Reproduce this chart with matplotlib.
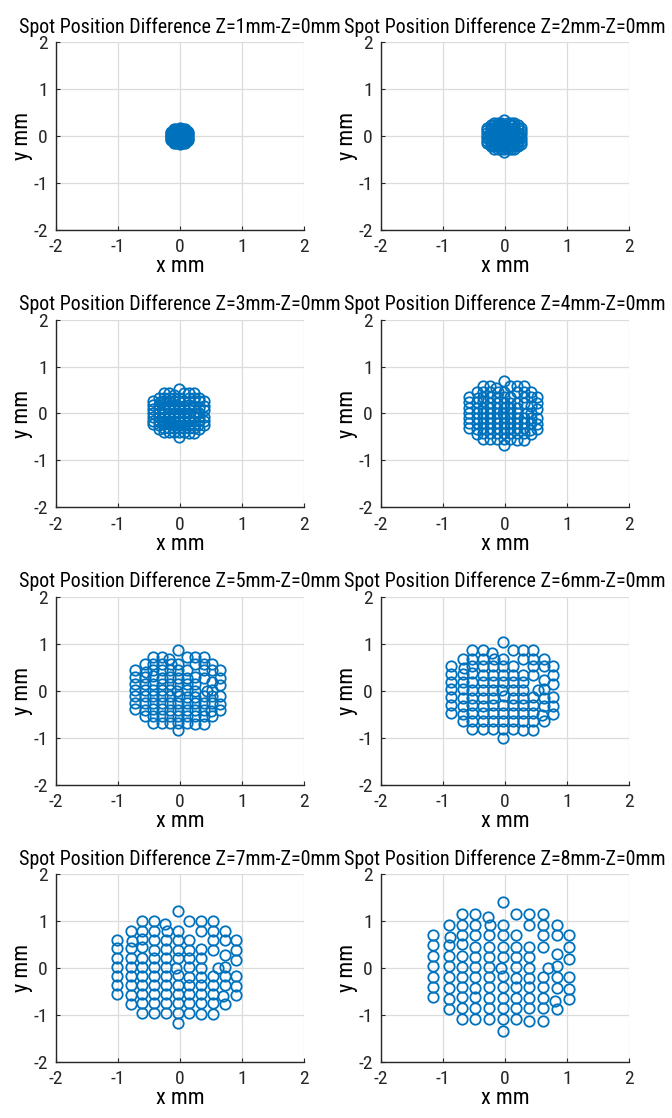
import matplotlib
matplotlib.use("Agg")
import matplotlib.pyplot as plt

plt.rcParams["font.family"] = ["Roboto Condensed", "Liberation Sans", "DejaVu Sans"]
plt.rcParams["axes.unicode_minus"] = False

z_mm = [1, 2, 3, 4, 5, 6, 7, 8]
# highest spot in each panel (mm)
spread_top = [0.18, 0.35, 0.52, 0.70, 0.87, 1.05, 1.22, 1.40]

spot_x = [-1.16, -1.16, -1.16, -1.16, -1.16, -1.16, -1.16,
          -0.91, -0.88, -0.91, -0.91, -0.91, -0.91, -0.91, -0.91, -0.91,
          -0.70, -0.70, -0.70, -0.70, -0.70, -0.70, -0.70, -0.70, -0.70, -0.70, -0.70,
          -0.48, -0.48, -0.48, -0.48, -0.48, -0.48, -0.48, -0.48, -0.48, -0.48, -0.48,
          -0.28, -0.24, -0.26, -0.26, -0.26, -0.26, -0.26, -0.26, -0.26, -0.26, -0.26,
          -0.04, -0.04, -0.04, -0.04, -0.04, -0.07, -0.03, -0.04, -0.04, -0.04, -0.04, -0.04,
          0.17, 0.17, 0.17, 0.17, 0.17, 0.17, 0.17, 0.17, 0.17, 0.17,
          0.38, 0.38, 0.38, 0.38, 0.38, 0.38, 0.38, 0.38, 0.38, 0.38,
          0.61, 0.61, 0.61, 0.61, 0.61, 0.61, 0.61, 0.61, 0.61,
          0.70,
          0.84, 0.84, 0.84, 0.84, 0.84, 0.84, 0.80, 0.84,
          1.04, 1.04, 1.04, 1.04, 1.04, 1.04]
spot_y = [0.70, 0.49, 0.25, 0.04, -0.18, -0.41, -0.62,
          0.91, 0.66, 0.49, 0.25, 0.04, -0.19, -0.42, -0.66, -0.87,
          1.16, 0.91, 0.71, 0.52, 0.25, 0.02, -0.19, -0.41, -0.62, -0.85, -1.09,
          1.16, 0.91, 0.70, 0.45, 0.24, 0.02, -0.19, -0.42, -0.62, -0.85, -1.09,
          1.08, 0.91, 0.70, 0.46, 0.24, 0.02, -0.19, -0.41, -0.64, -0.85, -1.09,
          1.40, 0.91, 0.70, 0.45, 0.24, 0.01, -0.16, -0.41, -0.64, -0.85, -1.09, -1.34,
          1.16, 0.70, 0.45, 0.24, 0.02, -0.21, -0.41, -0.64, -0.85, -1.09,
          1.16, 0.91, 0.46, 0.24, 0.01, -0.21, -0.41, -0.64, -0.85, -1.12,
          1.16, 0.91, 0.70, 0.45, -0.18, -0.41, -0.64, -0.85, -1.12,
          0.01,
          0.91, 0.70, 0.31, 0.04, -0.19, -0.42, -0.69, -0.87,
          0.70, 0.45, 0.20, -0.18, -0.44, -0.66]

ticks = [-2, -1, 0, 1, 2]
color = "#0072BD"

fig = plt.figure(figsize=(6.72, 11.18), dpi=100)
W, H = 672.0, 1118.0
col_left = [56, 381]
row_top = [42.3, 319.6, 597.0, 874.3]
ax_w, ax_h = 248, 187.7

for i, z in enumerate(z_mm):
    r, c = divmod(i, 2)
    ax = fig.add_axes([col_left[c] / W, 1 - (row_top[r] + ax_h) / H, ax_w / W, ax_h / H])
    s = spread_top[i] / spread_top[-1]
    ax.plot([x * s for x in spot_x], [y * s for y in spot_y], "o", ls="none",
            mfc="none", mec=color, ms=7.5, mew=1.3, clip_on=False)
    ax.set_xlim(-2, 2)
    ax.set_ylim(-2, 2)
    ax.set_xticks(ticks)
    ax.set_yticks(ticks)
    ax.grid(True, color="#dcdcdc", lw=0.9)
    ax.set_axisbelow(True)
    for side in ["top", "right"]:
        ax.spines[side].set_visible(False)
    for side in ["left", "bottom"]:
        ax.spines[side].set_color("#262626")
        ax.spines[side].set_linewidth(1.0)
    ax.tick_params(direction="in", length=3, labelsize=14, colors="#262626")
    ax.tick_params(axis="x", pad=6)
    ax.tick_params(axis="y", pad=6)
    ax.set_xlabel("x mm", fontsize=16, labelpad=0)
    ax.set_ylabel("y mm", fontsize=16, labelpad=0)
    ax.set_title("Spot Position Difference Z=%dmm-Z=0mm" % z, fontsize=14.4, pad=7)

fig.savefig("out.png", dpi=100)
plt.close(fig)
